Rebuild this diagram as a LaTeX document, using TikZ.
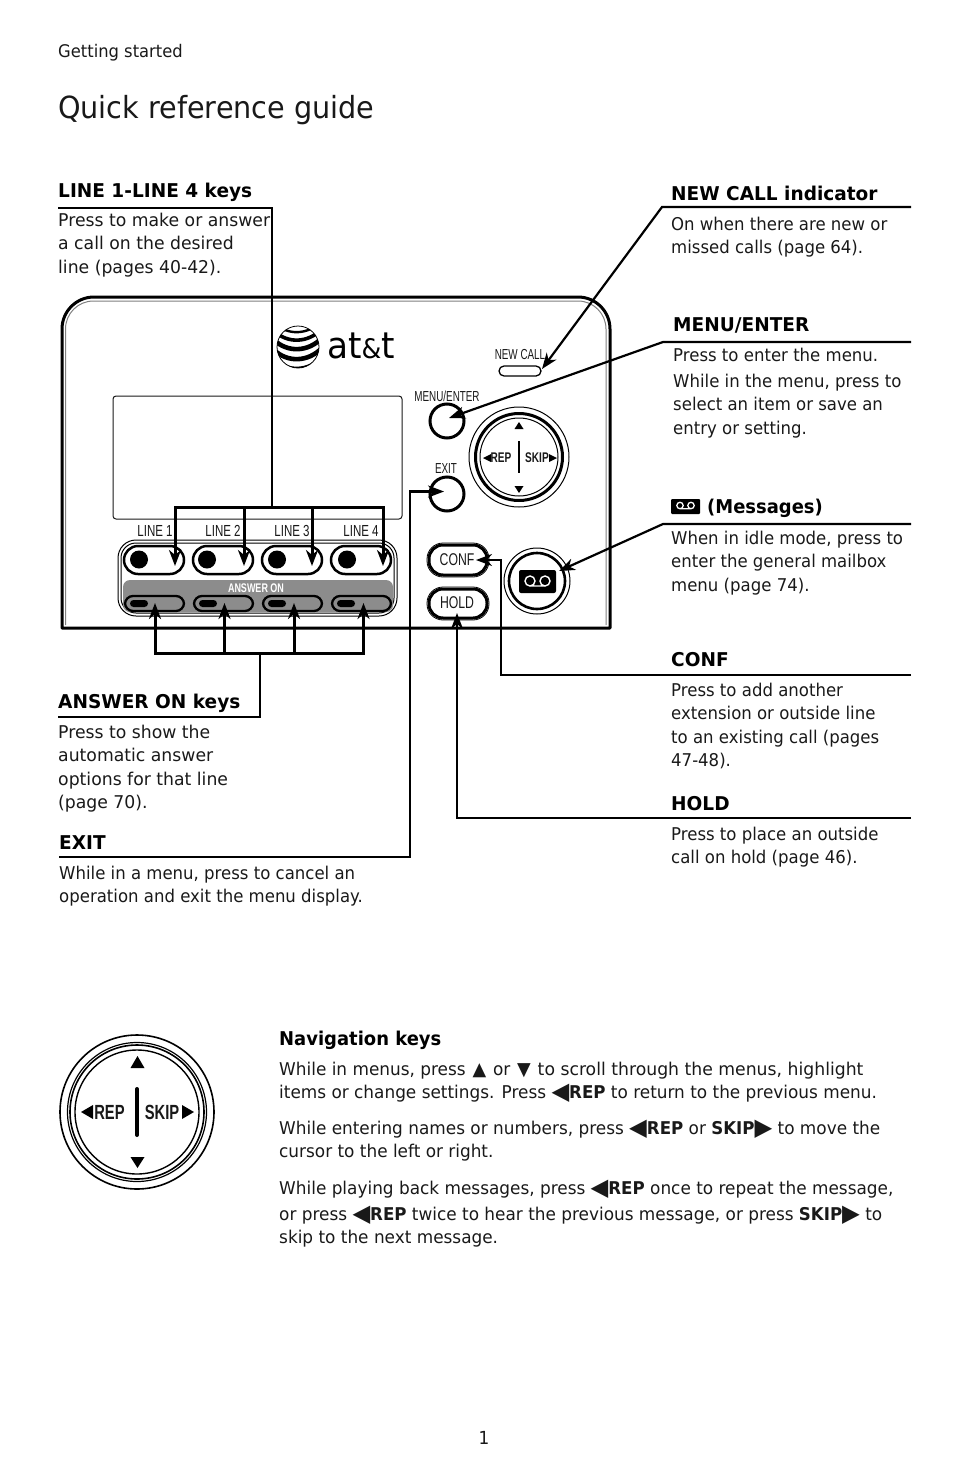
\documentclass[tikz,border=0pt]{standalone}
\usepackage{fontspec}
\setmainfont[FakeStretch=0.94,BoldFeatures={FakeStretch=0.975}]{DejaVu Sans}
\newfontfamily\navf[FakeStretch=0.96,BoldFeatures={FakeStretch=0.945}]{DejaVu Sans}
\newfontfamily\widef[FakeStretch=0.98]{DejaVu Sans}
\newfontfamily\narrowf[FakeStretch=0.72]{Liberation Sans}
\newfontfamily\tightf[FakeStretch=0.68]{Liberation Sans}
\usetikzlibrary{arrows.meta,calc}
\definecolor{ink}{gray}{0.1}
\tikzset{
 body/.style={anchor=north west,inner sep=0pt,align=left,text=ink,font=\fontsize{17.6}{23.4}\selectfont},
 navbody/.style={body,font=\navf\fontsize{17.6}{23.4}\selectfont},
 widebody/.style={body,font=\widef\fontsize{17.6}{23.4}\selectfont},
 head/.style={anchor=north west,inner sep=0pt,text=black,font=\fontsize{19}{23}\selectfont\bfseries},
 navhead/.style={head,font=\navf\fontsize{19}{23}\selectfont\bfseries},
 lab/.style={inner sep=0pt,text=ink,font=\narrowf\fontsize{16}{16}\selectfont},
 smalllab/.style={inner sep=0pt,text=ink,font=\tightf\fontsize{14.5}{14}\selectfont},
 pill/.style={draw=black,rounded corners=#1,line width=2.5pt},
 lead/.style={draw=black,line width=2.2pt},
 bus/.style={draw=black,line width=3pt},
 tip/.style={-{Stealth[length=16pt,width=12pt,inset=5pt]}},
 tri/.style={fill=black,draw=none},
}
\newcommand{\bl}{\rule{0pt}{15pt}}
\begin{document}
\begin{tikzpicture}[x=1pt,y=-1pt]
\useasboundingbox (0,0) rectangle (954,1472);
% page text
\node[body,font=\fontsize{17.4}{20}\selectfont] (section) at (58,42) {\bl Getting started};
\node[anchor=base west,inner sep=0pt,text=ink,font=\fontsize{30.5}{36}\selectfont] (title) at (58,118) {Quick reference guide};
% phone body
\draw[line width=3pt,line join=round] (62,628) -- (62,329) arc[start angle=180,end angle=90,radius=32pt] -- (578,297) arc[start angle=90,end angle=0,radius=32pt] -- (610,628) -- cycle;
\draw[line width=1pt,gray] (65.5,625) -- (65.5,329) arc[start angle=180,end angle=90,radius=28pt] -- (578,301) arc[start angle=90,end angle=0,radius=28pt] -- (606,625);
% logo
\begin{scope}
 \clip (298,347) circle[radius=21pt];
 \foreach \yy/\w in {-18/2.4,-10/3.6,-1/4.6,9/4.6,18/3} {
  \draw[line width=\w pt] (274,347+\yy-6) .. controls (288,347+\yy+7) and (308,347+\yy+6) .. (322,347+\yy-8);
 }
\end{scope}
\draw[line width=.8pt] (298,347) circle[radius=21pt];
\node[anchor=base west,inner sep=0pt,font=\fontsize{36.5}{36}\selectfont] (logotext) at (327,358) {at{\fontsize{27}{27}\selectfont\&}t};
% screen
\draw[line width=1pt,rounded corners=3pt,draw=ink] (113,396) rectangle (402,519);
% key panel
\draw[line width=1pt,rounded corners=18pt] (118,540) rectangle (397,616);
\draw[line width=1pt,rounded corners=15pt] (121,543) rectangle (394,613);
\fill[black!45,rounded corners=7pt] (123,580) rectangle (393,612);
\node[inner sep=0pt,text=white,font=\narrowf\fontsize{12.5}{12}\selectfont\bfseries] (answerlabel) at (256,588) {ANSWER ON};
\foreach \n/\xa/\xd/\xl/\xe/\tx in {1/124/139/155/130/175,2/193/207/223/199/244,3/262/277/292/268/312,4/331/347/361/337/383} {
  \draw[pill=14pt] (\xa,546) rectangle (\xa+60,574);
  \fill (\xd,559.5) circle[radius=9pt];
  \node[lab] (linelabel\n) at (\xl,531) {LINE \n};
  \coordinate (linetip\n) at (\tx,566);
  \draw[pill=8pt,line width=2.3pt] (\xa+1,596) rectangle (\xa+60,611);
  \fill[rounded corners=3.5pt] (\xe,600) rectangle (\xe+18,607);
  \coordinate (anstip\n) at (\xa+30.5+\n*0.5,603);
}
% right buttons
\node[smalllab] (newcalllabel) at (520,355) {NEW CALL};
\draw[line width=1.3pt,rounded corners=5pt] (499,366) rectangle (541,376);
\node[smalllab] (menulabel) at (447,396) {MENU/ENTER};
\node[draw,circle,line width=3pt,minimum size=34pt,inner sep=0pt] (menubtn) at (447,421) {};
\node[smalllab] (exitlabel) at (446,469) {EXIT};
\node[draw,circle,line width=3pt,minimum size=34pt,inner sep=0pt] (exitbtn) at (447,494) {};
% small nav ring
\draw[line width=1pt] (519,457) circle[radius=50pt];
\draw[line width=3pt] (519,457) circle[radius=43.5pt];
\draw[line width=1pt] (519,457) circle[radius=39pt];
\fill[tri] (519,422) -- (523.5,429) -- (514.5,429) -- cycle;
\fill[tri] (519,493) -- (523.5,486) -- (514.5,486) -- cycle;
\fill[tri] (483,458) -- (491,454) -- (491,462) -- cycle;
\fill[tri] (557,458) -- (549,454) -- (549,462) -- cycle;
\draw[line width=2pt] (519,441) -- (519,473);
\node[lab,font=\narrowf\fontsize{14}{14}\selectfont\bfseries] (repsmall) at (501,458) {REP};
\node[lab,font=\narrowf\fontsize{14}{14}\selectfont\bfseries] (skipsmall) at (537,458) {SKIP};
% conf hold
\draw[line width=3pt,rounded corners=14pt] (429,545) rectangle (487,575);
\draw[line width=.8pt,rounded corners=16pt] (427,543) rectangle (489,577);
\draw[line width=3pt,rounded corners=14pt] (429,589) rectangle (487,618);
\draw[line width=.8pt,rounded corners=16pt] (427,587) rectangle (489,620);
\node[lab,font=\narrowf\fontsize{17}{17}\selectfont] (conflabel) at (457,560) {CONF};
\node[lab,font=\narrowf\fontsize{17}{17}\selectfont] (holdlabel) at (457,603) {HOLD};
% messages button
\draw[line width=1pt] (537,581) circle[radius=33pt];
\draw[line width=2.6pt] (537,581) circle[radius=28pt];
\fill[rounded corners=2pt] (519,570) rectangle (556,593);
\draw[white,line width=1.4pt] (530,581) circle[radius=5pt] (545,581) circle[radius=5pt] (530,586) -- (545,586);
% connector free ends
\coordinate (linehead) at (58,208);
\coordinate (linecorner) at (272,208);
\coordinate (linejoin) at (272,507);
\coordinate (ansjoin) at (260,653);
\coordinate (anscorner) at (260,717);
\coordinate (anshead) at (58,717);
\coordinate (exithead) at (59,857);
\coordinate (exitcorner) at (410,857);
\coordinate (exitup) at (410,491.5);
\coordinate (exittip) at (444,491.5);
\coordinate (confend) at (911,675);
\coordinate (confcorner) at (501,675);
\coordinate (confup) at (501,560);
\coordinate (conftip) at (476,560);
\coordinate (holdend) at (911,818);
\coordinate (holdcorner) at (457,818);
\coordinate (holdtip) at (457,613);
\coordinate (newend) at (911,207);
\coordinate (newcorner) at (662,207);
\coordinate (newtip) at (542,369);
\coordinate (menuend) at (911,342);
\coordinate (menucorner) at (663,342);
\coordinate (menutip) at (449,418);
\coordinate (msgend) at (911,524);
\coordinate (msgcorner) at (663,524);
\coordinate (msgtip) at (559,571);
% connectors
\draw[lead] (linehead) -- (linecorner) -- (linejoin);
\draw[bus,line cap=rect] (linetip1 |- linejoin) -- (linetip4 |- linejoin);
\foreach \n in {1,2,3,4} {
  \draw[bus,tip] (linetip\n |- linejoin) -- (linetip\n);
  \draw[bus,tip] (anstip\n |- ansjoin) -- (anstip\n);
}
\draw[bus,line cap=rect] (anstip1 |- ansjoin) -- (anstip4 |- ansjoin);
\draw[lead] (ansjoin) -- (anscorner) -- (anshead);
\draw[lead,tip] (exithead) -- (exitcorner) -- (exitup) -- (exittip);
\draw[lead,tip] (confend) -- (confcorner) -- (confup) -- (conftip);
\draw[lead,tip] (holdend) -- (holdcorner) -- (holdtip);
\draw[lead,tip] (newend) -- (newcorner) -- (newtip);
\draw[lead,tip] (menuend) -- (menucorner) -- (menutip);
\draw[lead,tip] (msgend) -- (msgcorner) -- (msgtip);
% headings and descriptions (top = baseline - 15)
\node[head] (h1) at (58,182) {\bl LINE 1-LINE 4 keys};
\node[widebody] (t1) at (58,211) {\bl Press to make or answer\\a call on the desired\\line (pages 40-42).};
\node[head] (h2) at (671,185) {\bl NEW CALL indicator};
\node[body] (t2) at (671,215) {\bl On when there are new or\\missed calls (page 64).};
\node[head] (h3) at (673,316) {\bl MENU/ENTER};
\node[body] (t3a) at (673,346) {\bl Press to enter the menu.};
\node[body] (t3b) at (673,372) {\bl While in the menu, press to\\select an item or save an\\entry or setting.};
\fill[rounded corners=1pt] (671,499) rectangle (700,514);
\draw[white,line width=1.3pt] (680,505.5) circle[radius=3.2pt] (691,505.5) circle[radius=3.2pt] (680,508.7) -- (691,508.7);
\node[navhead] (h4) at (707,498) {\bl (Messages)};
\node[body] (t4) at (671,529) {\bl When in idle mode, press to\\enter the general mailbox\\menu (page 74).};
\node[head] (h5) at (671,651) {\bl CONF};
\node[body] (t5) at (671,681) {\bl Press to add another\\extension or outside line\\to an existing call (pages\\47-48).};
\node[head] (h6) at (671,795) {\bl HOLD};
\node[body] (t6) at (671,825) {\bl Press to place an outside\\call on hold (page 46).};
\node[head] (h7) at (58,693) {\bl ANSWER ON keys};
\node[widebody] (t7) at (58,723) {\bl Press to show the\\automatic answer\\options for that line\\(page 70).};
\node[head] (h8) at (59,834) {\bl EXIT};
\node[body] (t8) at (59,864) {\bl While in a menu, press to cancel an\\operation and exit the menu display.};
% big nav
\draw[line width=1.6pt] (137,1112) circle[radius=77pt];
\draw[line width=1.2pt] (137,1112) circle[radius=69.5pt];
\draw[line width=1.6pt] (137,1112) circle[radius=67pt];
\draw[line width=1.4pt] (137,1112) circle[radius=62pt];
\fill[tri] (137.5,1056) -- (144.5,1068) -- (130.5,1068) -- cycle;
\fill[tri] (137.5,1168) -- (144.5,1157) -- (130.5,1157) -- cycle;
\fill[tri] (81,1112) -- (93,1105) -- (93,1119) -- cycle;
\fill[tri] (194,1112) -- (182,1105) -- (182,1119) -- cycle;
\draw[line width=4pt,line cap=round] (137,1089) -- (137,1135);
\node[lab,font=\narrowf\fontsize{20.5}{20}\selectfont\bfseries] (repbig) at (109.5,1112) {REP};
\node[lab,font=\narrowf\fontsize{20.5}{20}\selectfont\bfseries] (skipbig) at (162,1112) {SKIP};
% navigation text
\newcommand{\lar}{{\fontsize{24}{22}\selectfont\raisebox{-1pt}{◀}}}
\newcommand{\rar}{{\fontsize{24}{22}\selectfont\raisebox{-1pt}{▶}}}
\newcommand{\uar}{{\fontsize{18.5}{22}\selectfont ▲}}
\newcommand{\dar}{{\fontsize{18.5}{22}\selectfont ▼}}
\node[navhead] (h9) at (279,1030) {\bl Navigation keys};
\node[navbody] (n1) at (279,1060) {\bl While in menus, press\hspace{1.5pt} \uar{}\hspace{1.5pt} or\hspace{1.5pt} \dar{}\hspace{1.5pt} {\widef to scroll through the menus, highlight}\\items or change settings. Press \lar\textbf{REP} to return to the previous menu.};
\node[navbody] (n2) at (279,1119) {\bl While entering names or numbers, press \lar\textbf{REP} or \textbf{SKIP}\rar{} to move the\\cursor to the left or right.};
\node[navbody] (n3) at (279,1179) {\bl While playing back messages, press \lar\textbf{REP} once to repeat the message,};
\node[navbody] (n4) at (279,1205) {\bl or press \lar\textbf{REP} twice to hear the previous message, or press \textbf{SKIP}\rar{} to\\skip to the next message.};
\node[anchor=base,inner sep=0pt,text=ink,font=\fontsize{18}{20}\selectfont] (pagenum) at (484,1444) {1};
\end{tikzpicture}
\end{document}
